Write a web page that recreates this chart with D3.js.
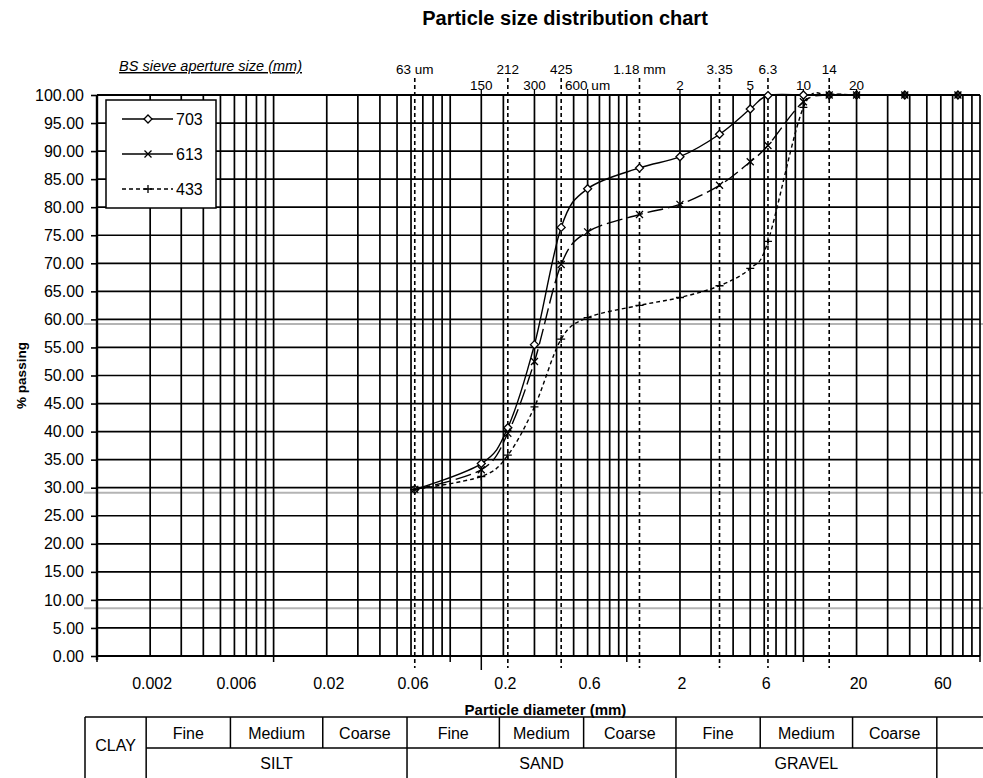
<!DOCTYPE html>
<html><head><meta charset="utf-8">
<script src="https://cdn.jsdelivr.net/npm/d3@7"></script>
<style>
body{margin:0;background:#fff}
svg{display:block}
text{font-family:"Liberation Sans",Arial,Helvetica,sans-serif;fill:#000}
</style>
</head><body>
<svg id="c" width="983" height="778"></svg>
<script>
// ---------- data ----------
const sieveSizes = [0.063,0.15,0.212,0.3,0.425,0.6,1.18,2,3.35,5,6.3,10,14,20,37.5,75];
const series703 = [29.7,34.3,40.7,55.5,76.4,83.3,87.0,89.0,93.0,97.5,99.9,100,100,100,100,100];
const series613 = [29.7,33.2,39.7,52.5,69.8,75.6,78.7,80.5,83.9,88.1,91.0,98.8,100,100,100,100];
const series433 = [29.7,32.0,35.8,44.4,56.5,60.3,62.5,63.9,66.0,69.1,73.9,97.8,100,100,100,100];
const seriesNames = ["703","613","433"];
const yTicks = d3.range(0,101,5);
const xLabelValues = [0.002,0.006,0.02,0.06,0.2,0.6,2,6,20,60];
const xLabelTexts = ["0.002","0.006","0.02","0.06","0.2","0.6","2","6","20","60"];
const sieveRow1 = [0.063,0.212,0.425,1.18,3.35,6.3,14];
const sieveRow1Labels = ["63 um","212","425","1.18 mm","3.35","6.3","14"];
const sieveRow2 = [0.15,0.3,0.6,2,5,10,20];
const sieveRow2Labels = ["150","300","600 um","2","5","10","20"];
const greyLines = [59.2,29.1,8.5];
const decadeTicks = [0.001,0.01,0.1,1,10,100];
const classBounds = [0.002,0.006,0.02,0.06,0.2,0.6,2,6,20,60];
const subClasses = ["Fine","Medium","Coarse","Fine","Medium","Coarse","Fine","Medium","Coarse"];
const mainClasses = ["SILT","SAND","GRAVEL"];

// ---------- layout ----------
const W=983,H=778;
const svg=d3.select("#c");
const x=d3.scaleLog().domain([0.001,100]).range([97,980]);
const y=d3.scaleLinear().domain([0,100]).range([656,95]);
const pL=x(0.001), pR=x(100), pT=y(100), pB=y(0);
const FONT='"Liberation Sans",Arial,Helvetica,sans-serif';

// grid values
const gridX=[];
for(let e=-3;e<=1;e++) for(let m=1;m<=9;m++) gridX.push(m*Math.pow(10,e));
gridX.push(100);
gridX.push(sieveRow2[0]);

// grey lines
svg.append("g").selectAll("line").data(greyLines).join("line")
  .attr("x1",84).attr("x2",W).attr("y1",d=>y(d)).attr("y2",d=>y(d))
  .attr("stroke","#b4b4b4").attr("stroke-width",2);

// horizontal grid
svg.append("g").selectAll("line").data(yTicks).join("line")
  .attr("x1",pL).attr("x2",pR).attr("y1",d=>y(d)).attr("y2",d=>y(d))
  .attr("stroke","#000").attr("stroke-width",d=>(d===0||d===100)?2.2:1.7);

// vertical grid
svg.append("g").selectAll("line").data(gridX).join("line")
  .attr("x1",d=>x(d)).attr("x2",d=>x(d)).attr("y1",pT).attr("y2",pB)
  .attr("stroke","#000").attr("stroke-width",1.7);

// ticks below axis
svg.append("g").selectAll("line").data(decadeTicks).join("line")
  .attr("x1",d=>x(d)).attr("x2",d=>x(d)).attr("y1",pB).attr("y2",pB+6)
  .attr("stroke","#000").attr("stroke-width",1.5);
svg.append("line").attr("x1",x(sieveRow2[0])).attr("x2",x(sieveRow2[0]))
  .attr("y1",pB).attr("y2",pB+14).attr("stroke","#000").attr("stroke-width",1.5);

// dashed sieve lines
svg.append("g").selectAll("line").data(sieveRow1).join("line")
  .attr("x1",d=>x(d)).attr("x2",d=>x(d)).attr("y1",pT-17).attr("y2",pB+12)
  .attr("stroke","#000").attr("stroke-width",1.6).attr("stroke-dasharray","4,3");

// row2 short ticks
svg.append("g").selectAll("line").data(sieveRow2).join("line")
  .attr("x1",d=>x(d)).attr("x2",d=>x(d)).attr("y1",pT-6).attr("y2",pT)
  .attr("stroke","#000").attr("stroke-width",1.3);

// sieve labels
svg.append("g").selectAll("text").data(sieveRow1).join("text")
  .attr("x",d=>x(d)).attr("y",pT-21).attr("text-anchor","middle")
  .attr("font-size",13.5).text((d,i)=>sieveRow1Labels[i]);
svg.append("g").selectAll("text").data(sieveRow2).join("text")
  .attr("x",d=>x(d)).attr("y",pT-5).attr("text-anchor","middle")
  .attr("font-size",13.5).text((d,i)=>sieveRow2Labels[i]);

// y axis
const yAxis=svg.append("g").attr("transform",`translate(${pL},0)`)
  .call(d3.axisLeft(y).tickValues(yTicks).tickFormat(d=>d.toFixed(2)).tickSize(6).tickSizeOuter(0).tickPadding(7));
yAxis.select(".domain").attr("stroke-width",2.4).attr("d",`M0,${pT}V${pB+4}`);
yAxis.selectAll(".tick line").attr("stroke-width",1.6);
yAxis.selectAll("text").attr("font-size",16).attr("font-family",FONT).attr("fill","#000");

// y title
svg.append("text").attr("transform",`translate(26,${y(50)}) rotate(-90)`)
  .attr("text-anchor","middle").attr("font-size",13.5).attr("font-weight","bold").text("% passing");

// x labels
svg.append("g").selectAll("text").data(xLabelValues).join("text")
  .attr("x",d=>x(d)+2).attr("y",pB+33).attr("text-anchor","middle")
  .attr("font-size",16).text((d,i)=>xLabelTexts[i]);
svg.append("text").attr("x",(x(0.2)+x(0.6))/2).attr("y",pB+59).attr("text-anchor","middle")
  .attr("font-size",15).attr("font-weight","bold").text("Particle diameter (mm)");

// title & sieve caption
svg.append("text").attr("x",565).attr("y",25).attr("text-anchor","middle")
  .attr("font-size",20).attr("font-weight","bold").text("Particle size distribution chart");
svg.append("text").attr("x",302).attr("y",pT-24).attr("text-anchor","end")
  .attr("font-size",14.5).attr("font-style","italic").attr("text-decoration","underline")
  .text("BS sieve aperture size (mm)");

// ---------- series ----------
const allSeries=[series703,series613,series433];
const dashes=[null,"16,5","4,3"];
const line=d3.line().x(d=>x(d[0])).y(d=>y(d[1])).curve(d3.curveCardinal.tension(0));
const markerPath=[
  s=>`M0,${-s}L${s},0L0,${s}L${-s},0Z`,
  s=>`M${-s},${-s}L${s},${s}M${-s},${s}L${s},${-s}`,
  s=>`M${-s},0H${s}M0,${-s}V${s}`
];
const markerSize=[4,3.5,4];
allSeries.forEach((vals,i)=>{
  const pts=sieveSizes.map((s,j)=>[s,vals[j]]);
  svg.append("path").attr("d",line(pts)).attr("fill","none").attr("stroke","#000")
    .attr("stroke-width",1.4).attr("stroke-dasharray",dashes[i]);
  svg.append("g").selectAll("path").data(pts).join("path")
    .attr("transform",d=>`translate(${x(d[0])},${y(d[1])})`)
    .attr("d",markerPath[i](markerSize[i]))
    .attr("fill",i===0?"#fff":"none").attr("stroke","#000").attr("stroke-width",1.3);
});

// ---------- legend ----------
const lg=svg.append("g");
lg.append("rect").attr("x",106).attr("y",100).attr("width",110).attr("height",108)
  .attr("fill","#fff").attr("stroke","#000").attr("stroke-width",1.5);
seriesNames.forEach((n,i)=>{
  const ly=119+i*35;
  lg.append("line").attr("x1",122).attr("x2",173).attr("y1",ly).attr("y2",ly)
    .attr("stroke","#000").attr("stroke-width",1.4).attr("stroke-dasharray",i===2?"4,3":null);
  lg.append("path").attr("transform",`translate(148,${ly})`).attr("d",markerPath[i](markerSize[i]))
    .attr("fill",i===0?"#fff":"none").attr("stroke","#000").attr("stroke-width",1.3);
  lg.append("text").attr("x",176).attr("y",ly+6).attr("font-size",16).text(n);
});

// ---------- classification table ----------
const tShift=-4;
const tT=717, tM=748, tB=H, tL=85;
const tb=svg.append("g").attr("stroke","#000").attr("stroke-width",1.5);
tb.append("line").attr("x1",tL).attr("x2",W).attr("y1",tT).attr("y2",tT);
tb.append("line").attr("x1",x(classBounds[0])+tShift).attr("x2",W).attr("y1",tM).attr("y2",tM);
tb.append("line").attr("x1",tL).attr("x2",tL).attr("y1",tT).attr("y2",tB);
classBounds.forEach((b,i)=>{
  const isMain=(i%3===0);
  tb.append("line").attr("x1",x(b)+tShift).attr("x2",x(b)+tShift)
    .attr("y1",tT).attr("y2",isMain?tB:tM);
});
const tt=svg.append("g").attr("font-size",16).attr("text-anchor","middle");
subClasses.forEach((s,i)=>{
  tt.append("text").attr("x",(x(classBounds[i])+x(classBounds[i+1]))/2+tShift)
    .attr("y",(tT+tM)/2+6).text(s);
});
mainClasses.forEach((s,i)=>{
  tt.append("text").attr("x",(x(classBounds[i*3])+x(classBounds[i*3+3]))/2+tShift)
    .attr("y",(tM+tB)/2+6).text(s);
});
tt.append("text").attr("x",(tL+x(classBounds[0])+tShift)/2).attr("y",(tT+tB)/2+3).text("CLAY");
</script>
</body></html>
